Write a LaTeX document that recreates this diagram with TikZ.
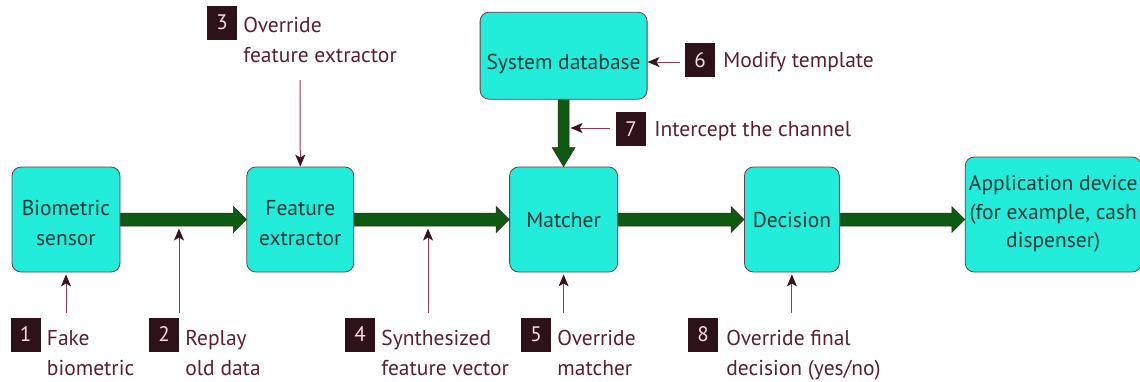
\documentclass[tikz,border=0pt]{standalone}
\usepackage{fontspec}
\setmainfont{PT Sans}
\usetikzlibrary{arrows.meta,calc,positioning}

\definecolor{boxcyan}{HTML}{22EDDA}
\definecolor{boxedge}{HTML}{6B3A48}
\definecolor{boxtext}{HTML}{1E3434}
\definecolor{flowgreen}{HTML}{0D5A10}
\definecolor{flowedge}{HTML}{3B2A1E}
\definecolor{attackline}{HTML}{8A3D5C}
\definecolor{attacktip}{HTML}{3A1222}
\definecolor{tagfill}{HTML}{2E1219}
\definecolor{tagtext}{HTML}{F3DCE3}
\definecolor{lbltext}{HTML}{5A1E33}

\newcommand{\toplift}[1]{\rule{0pt}{#1}}

% thick green connectors
\newcommand{\flowright}[2]{%
  \filldraw[flow] let \p1=(#1.east), \p2=(#2.west) in
    (\x1,\y1+6.5pt) -- (\x2-13pt,\y1+6.5pt) -- (\x2-13pt,\y1+13pt) -- (\x2,\y1)
    -- (\x2-13pt,\y1-13pt) -- (\x2-13pt,\y1-6.5pt) -- (\x1,\y1-6.5pt) -- cycle;}
\newcommand{\flowdown}[2]{%
  \filldraw[flow] let \p1=(#1.south), \p2=(#2.north) in
    (\x1-5.5pt,\y1) -- (\x1-5.5pt,\y2+19pt) -- (\x1-11.5pt,\y2+19pt) -- (\x1,\y2)
    -- (\x1+11.5pt,\y2+19pt) -- (\x1+5.5pt,\y2+19pt) -- (\x1+5.5pt,\y1) -- cycle;}

\begin{document}
\begin{tikzpicture}
  [
   x=1pt,y=-1pt,
   node distance=126pt,
   block/.style={draw=boxedge,fill=boxcyan,rounded corners=9pt,line width=0.8pt,
     text=boxtext,align=center,inner sep=0pt,font=\fontsize{21.5}{30}\selectfont,
     execute at end node={\rule[-6pt]{0pt}{6pt}}},
   lift/.style={execute at begin node={\rule{0pt}{#1}}},
   tag/.style={fill=tagfill,text=tagtext,minimum width=30pt,minimum height=34pt,
     inner sep=0pt,font=\fontsize{21}{24}\selectfont},
   lbl/.style={text=lbltext,align=left,inner sep=0pt,font=\fontsize{21.5}{30}\selectfont},
   attack/.style={draw=attackline,line width=1pt,
     -{Stealth[length=12pt,width=10pt,inset=3pt,color=attacktip]}},
   flow/.style={fill=flowgreen,draw=flowedge,line width=0.5pt}
  ]
   \useasboundingbox (0,0) rectangle (1140,381);

   \node[block,minimum width=108pt,minimum height=105pt] (bs) at (66,219.5) {\toplift{28pt}Biometric\\sensor};
   \node[block,minimum width=107pt,minimum height=105pt] (fe) [right=of bs] {\toplift{28pt}Feature\\extractor};
   \node[block,lift=21pt,minimum width=108pt,minimum height=105pt] (m) [right=155pt of fe] {Matcher};
   \node[block,lift=21pt,minimum width=95pt,minimum height=105pt] (d) [right=of m] {Decision};
   \node[block,minimum width=176pt,minimum height=115pt,yshift=5pt,
     font=\fontsize{21.5}{28.5}\selectfont] (ad) [right=125pt of d]
     {Application device\\(for example, cash\\dispenser)};
   \node[block,lift=33pt,minimum width=167pt,minimum height=87pt] (db) [above=67pt of m] {System database};

   \node[tag] (t1) at (25.5,334.5) {1};
   \node[tag] (t2) at (164,334.5) {2};
   \node[tag] (t3) at (222,22.5) {3};
   \node[tag] (t4) at (360,334.5) {4};
   \node[tag] (t5) at (536,334.5) {5};
   \node[tag] (t6) at (700,60) {6};
   \node[tag] (t7) at (631,129) {7};
   \node[tag] (t8) at (703,334.5) {8};

   \node[lbl,anchor=north west] (l1) at ($(t1.east)+(6,-10.5)$) {\strut Fake\\biometric};
   \node[lbl,anchor=north west] (l2) at ($(t2.east)+(6,-10.5)$) {\strut Replay\\old data};
   \node[lbl,anchor=north west] (l3) at ($(t3.east)+(6,-11.5)$) {\strut Override\\feature extractor};
   \node[lbl,anchor=north west] (l4) at ($(t4.east)+(6,-10.5)$) {\strut Synthesized\\feature vector};
   \node[lbl,anchor=north west] (l5) at ($(t5.east)+(6,-10.5)$) {\strut Override\\matcher};
   \node[lbl,anchor=base west] (l6) at ($(t6.east)+(8,7.5)$) {Modify template};
   \node[lbl,anchor=base west] (l7) at ($(t7.east)+(8,7.5)$) {Intercept the channel};
   \node[lbl,anchor=north west] (l8) at ($(t8.east)+(8,-10.5)$) {\strut Override final\\decision (yes/no)};

   \flowright{bs}{fe}
   \flowright{fe}{m}
   \flowright{m}{d}
   \flowright{d}{ad}
   \flowdown{db}{m}

   \coordinate (s1) at (66,313);
   \coordinate (s2) at (179,313);
   \coordinate (s3) at (300,80);
   \coordinate (s4) at (428,313);
   \coordinate (s5) at (m.south |- s1);
   \coordinate (s6) at (680,62);
   \coordinate (s7) at (610,128);
   \coordinate (s8) at (d.south |- s1);
   \coordinate (h2) at (s2 |- 0,228.5);
   \coordinate (h4) at (s4 |- 0,228.5);
   \coordinate (h7) at ($(db.south |- s7)+(7,0)$);

   \draw[attack,shorten >=2pt] (s1) -- (bs.south);
   \draw[attack] (s2) -- (h2);
   \draw[attack] (s3) -- (fe.north);
   \draw[attack] (s4) -- (h4);
   \draw[attack,shorten >=2pt] (s5) -- (m.south);
   \draw[attack] (s6) -- (s6 -| db.east);
   \draw[attack] (s7) -- (h7);
   \draw[attack,shorten >=2pt] (s8) -- (d.south);

\end{tikzpicture}
\end{document}
